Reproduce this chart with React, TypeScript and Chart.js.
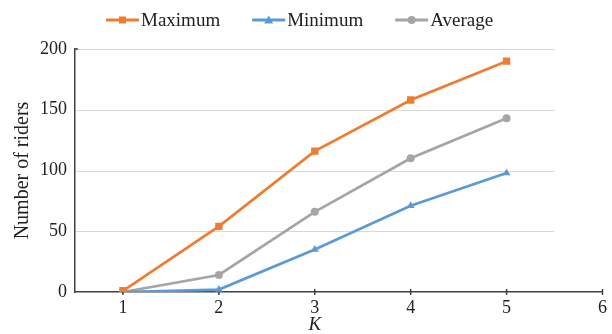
import React, { useEffect, useRef } from "react";
import { Chart, registerables } from "chart.js";

Chart.register(...registerables);

const kValues = [1, 2, 3, 4, 5];
const maximumRiders = [1, 54, 116, 158, 190];
const minimumRiders = [0, 2, 35, 71, 98];
const averageRiders = [0, 14, 66, 110, 143];
const xTickValues = [1, 2, 3, 4, 5, 6];
const yGridValues = [50, 100, 150, 200];
const seriesNames = ["Maximum", "Minimum", "Average"];
const seriesShapes = ["rect", "triangle", "circle"];

const ORANGE = "#ED7D31";
const BLUE = "#5B9BD5";
const GRAY = "#A5A5A5";
const seriesColors = [ORANGE, BLUE, GRAY];
const FONT = "'Liberation Serif', 'Times New Roman', serif";
const TEXT = "#222";
const AXIS = "#404040";

function drawMarker(ctx: CanvasRenderingContext2D, shape: string, cx: number, cy: number) {
  if (shape === "rect") {
    ctx.fillRect(cx - 3.5, cy - 3.5, 7, 7);
  } else if (shape === "triangle") {
    ctx.beginPath();
    ctx.moveTo(cx, cy - 4.5);
    ctx.lineTo(cx + 4.5, cy + 3.5);
    ctx.lineTo(cx - 4.5, cy + 3.5);
    ctx.closePath();
    ctx.fill();
  } else {
    ctx.beginPath();
    ctx.arc(cx, cy, 4, 0, Math.PI * 2);
    ctx.fill();
  }
}

export default function App() {
  const ref = useRef<HTMLCanvasElement>(null);

  useEffect(() => {
    const canvas = ref.current;
    if (!canvas) return;
    const toPoints = (vals: number[]) => kValues.map((k, i) => ({ x: k, y: vals[i] }));

    const customDraw = {
      id: "customDraw",
      beforeDatasetsDraw(chart: any) {
        const { ctx, scales } = chart;
        const x = scales.x;
        const y = scales.y;
        ctx.save();
        ctx.strokeStyle = "#D9D9D9";
        ctx.lineWidth = 1;
        yGridValues.forEach((v) => {
          const py = Math.round(y.getPixelForValue(v)) + 0.5;
          ctx.beginPath();
          ctx.moveTo(x.left + 1, py);
          ctx.lineTo(x.getPixelForValue(5.5), py);
          ctx.stroke();
        });
        // x tick marks crossing the axis
        ctx.strokeStyle = AXIS;
        ctx.lineWidth = 1.5;
        const y0 = y.getPixelForValue(0);
        xTickValues.forEach((v) => {
          const px = x.getPixelForValue(v);
          ctx.beginPath();
          ctx.moveTo(px, y0 - 3);
          ctx.lineTo(px, y0 + 3);
          ctx.stroke();
        });
        // top stub on y axis
        const yTop = y.getPixelForValue(200);
        ctx.beginPath();
        ctx.moveTo(x.left, yTop);
        ctx.lineTo(x.left + 3, yTop);
        ctx.stroke();
        ctx.restore();
      },
      afterDraw(chart: any) {
        const { ctx, scales } = chart;
        const x = scales.x;
        ctx.save();
        ctx.fillStyle = TEXT;
        ctx.font = `italic 19px ${FONT}`;
        ctx.textAlign = "center";
        ctx.textBaseline = "middle";
        ctx.fillText("K", x.getPixelForValue(3), 325);

        // legend
        ctx.font = `19px ${FONT}`;
        ctx.textAlign = "left";
        let lx = 106;
        const ly = 20;
        seriesNames.forEach((name, i) => {
          ctx.strokeStyle = seriesColors[i];
          ctx.fillStyle = seriesColors[i];
          ctx.lineWidth = 3;
          ctx.beginPath();
          ctx.moveTo(lx, ly);
          ctx.lineTo(lx + 33, ly);
          ctx.stroke();
          drawMarker(ctx, seriesShapes[i], lx + 16.5, ly);
          lx += 35;
          ctx.fillStyle = TEXT;
          ctx.fillText(name, lx, ly + 1);
          lx += ctx.measureText(name).width + 32;
        });
        ctx.restore();
      },
    };

    const chart = new Chart(canvas, {
      type: "line",
      data: {
        datasets: [
          {
            label: seriesNames[0],
            data: toPoints(maximumRiders),
            borderColor: ORANGE,
            backgroundColor: ORANGE,
            borderWidth: 2.75,
            pointStyle: "rect",
            pointRadius: 5.2,
            pointBorderWidth: 0,
          },
          {
            label: seriesNames[1],
            data: toPoints(minimumRiders),
            borderColor: BLUE,
            backgroundColor: BLUE,
            borderWidth: 2.75,
            pointStyle: "triangle",
            pointRadius: 4.5,
            pointBorderWidth: 0,
          },
          {
            label: seriesNames[2],
            data: toPoints(averageRiders),
            borderColor: GRAY,
            backgroundColor: GRAY,
            borderWidth: 2.75,
            pointStyle: "circle",
            pointRadius: 4,
            pointBorderWidth: 0,
          },
        ],
      },
      options: {
        animation: false,
        responsive: false,
        maintainAspectRatio: false,
        layout: { padding: { top: 49, left: 0, right: 0, bottom: 0 } },
        plugins: {
          tooltip: { enabled: false },
          legend: { display: false },
        },
        scales: {
          x: {
            type: "linear",
            min: 0.5,
            max: 6,
            afterBuildTicks: (scale: any) => {
              scale.ticks = xTickValues.map((v) => ({ value: v }));
            },
            afterFit: (scale: any) => {
              scale.height = 42;
            },
            grid: { display: false, drawTicks: false },
            border: { display: true, color: AXIS, width: 1.5 },
            ticks: {
              color: TEXT,
              font: { family: FONT, size: 18 },
              padding: 5,
              maxRotation: 0,
              autoSkip: false,
            },
          },
          y: {
            type: "linear",
            min: 0,
            max: 200,
            afterFit: (scale: any) => {
              scale.width = 75;
            },
            grid: { display: false, drawTicks: false },
            border: { display: true, color: AXIS, width: 1.5 },
            ticks: {
              stepSize: 50,
              color: TEXT,
              font: { family: FONT, size: 18 },
              padding: 8,
            },
            title: {
              display: true,
              text: "Number of riders",
              color: TEXT,
              font: { family: FONT, size: 20 },
              padding: { top: 11, bottom: 0 },
            },
          },
        },
      },
      plugins: [customDraw],
    });
    return () => chart.destroy();
  }, []);

  return (
    <div style={{ position: "fixed", left: 0, top: 0, width: 612, height: 334, background: "#fff" }}>
      <canvas ref={ref} width={612} height={334} style={{ width: 612, height: 334 }} />
    </div>
  );
}
